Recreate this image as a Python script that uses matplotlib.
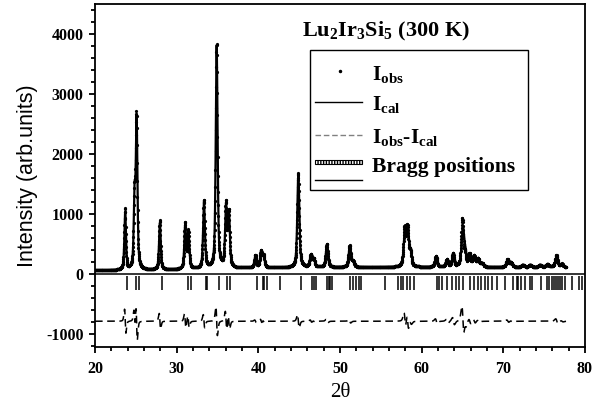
import numpy as np
import matplotlib
matplotlib.use('Agg')
import matplotlib.pyplot as plt
from matplotlib.patches import Rectangle
from matplotlib.ticker import MultipleLocator

plt.rcParams['font.family'] = 'Liberation Serif'
plt.rcParams['mathtext.fontset'] = 'custom'
plt.rcParams['mathtext.rm'] = 'Liberation Serif:bold'
plt.rcParams['mathtext.bf'] = 'Liberation Serif:bold'
plt.rcParams['axes.unicode_minus'] = False

# Peak list (2theta, height above background, residual amplitude)
peak_pos = [23.70, 24.85, 25.10, 27.95, 31.05, 31.45, 33.35, 34.90, 36.05, 36.40,
            39.65, 40.35, 40.65, 44.90, 46.45, 46.80, 48.40, 51.20, 51.60, 57.95,
            58.30, 58.65, 61.80, 63.15, 63.90, 65.05, 65.35, 65.90, 66.45, 66.95,
            67.40, 70.55, 71.00, 72.40, 73.30, 74.50, 75.40, 76.55, 77.20]
peak_height = [950, 1150, 2450, 780, 720, 600, 1120, 3710, 1000, 880,
               200, 260, 190, 1560, 200, 130, 380, 350, 90, 560,
               590, 220, 170, 110, 200, 640, 200, 190, 170, 130,
               60, 120, 70, 40, 40, 40, 50, 180, 50]
peak_resid = [200, 160, 300, 130, 120, 100, 110, 240, 160, 120,
              20, 30, 20, 110, 20, 10, 30, 30, 0, 130,
              130, 40, 40, 30, 60, 240, 60, 40, 30, 20,
              0, 20, 10, 0, 0, 0, 0, 40, 10]

# background points (FullProf style linear background)
bg_x = [20, 30, 40, 50, 60, 70, 77.7]
bg_y = [55, 70, 100, 110, 110, 110, 110]

# Bragg reflection positions
bragg = [23.88, 25.02, 25.35, 28.17, 31.35, 31.71, 33.55, 33.76, 35.14, 36.20,
         36.53, 39.80, 40.53, 40.74, 41.02, 42.69, 45.18, 46.53, 46.81, 47.02,
         48.45, 48.62, 48.80, 48.98, 51.22, 51.63, 51.92, 52.33, 52.57, 55.51,
         57.14, 57.43, 57.75, 58.16, 58.57, 59.10, 61.84, 62.12, 62.45, 63.06,
         63.67, 64.16, 64.57, 65.10, 65.92, 66.45, 66.94, 67.26, 67.75, 68.16,
         68.57, 69.18, 70.20, 71.22, 71.63, 71.84, 72.16, 72.65, 73.26, 73.55,
         74.61, 75.31, 75.59, 75.92, 76.16, 76.41, 76.73, 76.94, 77.14, 77.55,
         78.45, 79.27, 79.59]

diff_offset = -790
tt = np.arange(20.0, 77.7, 0.02)


def pv(x, x0, fwhm, eta=0.6):
    g = np.exp(-4 * np.log(2) * ((x - x0) / fwhm) ** 2)
    l = 1 / (1 + 4 * ((x - x0) / fwhm) ** 2)
    return eta * l + (1 - eta) * g


I_cal = np.interp(tt, bg_x, bg_y)
resid = np.zeros_like(tt)
for p, h, r in zip(peak_pos, peak_height, peak_resid):
    w = 0.22 + 0.003 * (p - 20)
    I_cal += h * pv(tt, p, w)
    d = np.gradient(pv(tt, p, w), tt)
    if np.abs(d).max() > 0:
        resid += r * d / np.abs(d).max()
I_obs = I_cal + resid

fig = plt.figure(figsize=(6.05, 4.07), dpi=100)
ax = fig.add_axes([0.157, 0.1474, 0.8099, 0.8428])

ax.plot(tt, I_cal, color='k', lw=1.6)
ax.plot(tt, I_obs, ls='none', marker='.', ms=2.6, color='k')
ax.plot(tt, I_obs - I_cal + diff_offset, color='k', lw=1.1, ls=(0, (5, 3)))
ax.vlines(bragg, -270, -40, color='k', lw=1.1)
ax.axhline(0, color='k', lw=1.1)

ax.set_xlim(20, 80)
ax.set_ylim(-1220, 4500)
ax.xaxis.set_major_locator(MultipleLocator(10))
ax.xaxis.set_minor_locator(MultipleLocator(2))
ax.yaxis.set_major_locator(MultipleLocator(1000))
ax.yaxis.set_minor_locator(MultipleLocator(200))
ax.tick_params(which='major', direction='out', length=4.3, width=1.3, labelsize=11.5)
ax.tick_params(which='minor', direction='out', length=2.6, width=1.3)
ax.tick_params(axis='x', pad=6)
ax.tick_params(axis='y', pad=4)
for lab in ax.get_xticklabels() + ax.get_yticklabels():
    lab.set_fontweight('bold')
for s in ax.spines.values():
    s.set_linewidth(1.3)

ax.set_xlabel('2\u03b8', fontsize=15, labelpad=4)
ax.set_ylabel('Intensity (arb.units)', fontsize=15.5, family='Liberation Sans', labelpad=6)

ax.text(0.422, 0.905, r'Lu$_\mathbf{2}$Ir$_\mathbf{3}$Si$_\mathbf{5}$ (300 K)',
        transform=ax.transAxes, fontsize=16, fontweight='bold', va='baseline')

# legend drawn by hand
tr = ax.transAxes
ax.add_patch(Rectangle((0.439, 0.458), 0.445, 0.408, transform=tr, fill=False, lw=1.0, ec='k'))
ax.plot([0.500], [0.806], transform=tr, marker='.', ms=3, color='k')
ax.plot([0.449, 0.545], [0.715, 0.715], transform=tr, color='k', lw=1.0)
ax.plot([0.449, 0.545], [0.618, 0.618], transform=tr, color='gray', lw=1.0, ls=(0, (4, 2)))
ax.add_patch(Rectangle((0.449, 0.534), 0.096, 0.011, transform=tr, fill=False,
                       hatch='||||||', lw=0.8, ec='k'))
ax.plot([0.449, 0.545], [0.487, 0.487], transform=tr, color='k', lw=1.0)
labels = [r'I$_\mathbf{obs}$', r'I$_\mathbf{cal}$', r'I$_\mathbf{obs}$-I$_\mathbf{cal}$', 'Bragg positions']
ys = [0.778, 0.691, 0.595, 0.510]
for t, y in zip(labels, ys):
    ax.text(0.565, y, t, transform=tr, fontsize=15.5, fontweight='bold', va='baseline')

fig.savefig('out.png', dpi=100)
